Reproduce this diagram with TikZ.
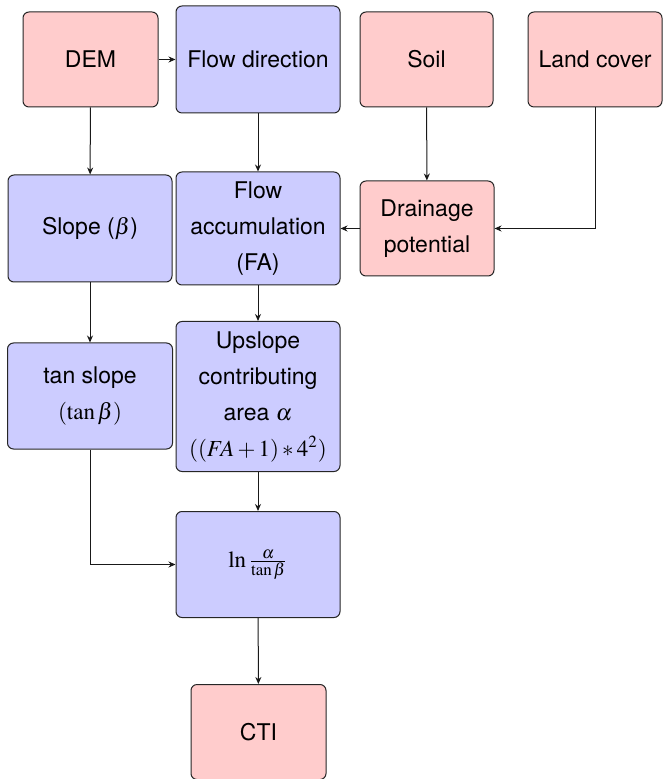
\documentclass[tikz,border=0pt]{standalone}
\usepackage{mathptmx}
\usepackage[no-math]{fontspec}
\setmainfont{TeX Gyre Heros}
\usetikzlibrary{arrows.meta}
\definecolor{pinkfill}{HTML}{FFCCCC}
\definecolor{bluefill}{HTML}{CCCCFF}
\tikzset{
  box/.style={draw=black!85, line width=0.5pt, rounded corners=3pt, align=center,
    inner sep=0pt, font=\fontsize{11.5}{18}\selectfont},
  pinkbox/.style={box, fill=pinkfill},
  bluebox/.style={box, fill=bluefill},
  sz/.style 2 args={minimum width=#1*0.5pt, minimum height=#2*0.5pt},
  arr/.style={-{Stealth[length=3.5pt,width=3pt]}, line width=0.5pt, black!90},
}
\begin{document}
\begin{tikzpicture}[x=0.5pt,y=-0.5pt]
\useasboundingbox (0,0) rectangle (662,779);
\node[pinkbox, sz={135}{95}]  (dem)  at (90.5,59.5) {DEM};
\node[bluebox, sz={164}{107}] (fd)   at (258,59.5) {Flow direction};
\node[pinkbox, sz={133}{95}]  (soil) at (426.5,59.5) {Soil};
\node[pinkbox, sz={134}{95}]  (lc)   at (595,59.5) {Land cover};
\node[bluebox, sz={164}{107}] (slope) at (90,228.5) {Slope ($\beta$)};
\node[bluebox, sz={164}{113}] (fa)   at (258,228.5) {Flow\\accumulation\\(FA)};
\node[pinkbox, sz={134}{95}]  (dp)   at (427,228.5) {Drainage\\potential};
\node[bluebox, sz={165}{106}] (ts)   at (90,396) {tan slope\\$(\tan\beta)$};
\node[bluebox, sz={164}{150}] (up)   at (258,396.5) {Upslope\\contributing\\area $\alpha$\\$((FA+1)*4^2)$};
\node[bluebox, sz={164}{106}] (ln)   at (258,564.5) {$\ln\frac{\alpha}{\tan\beta}$};
\node[pinkbox, sz={135}{95}]  (cti)  at (258.5,732) {CTI};

\draw[arr] (dem) -- (fd);
\draw[arr] (dem) -- (slope);
\draw[arr] (fd) -- (fa);
\draw[arr] (soil) -- (dp);
\draw[arr] (lc.south) |- (dp.east);
\draw[arr] (dp) -- (fa);
\draw[arr] (slope) -- (ts);
\draw[arr] (fa) -- (up);
\draw[arr] (up) -- (ln);
\draw[arr] (ts.south) |- (ln.west);
\draw[arr] (ln) -- (cti);
\end{tikzpicture}
\end{document}
